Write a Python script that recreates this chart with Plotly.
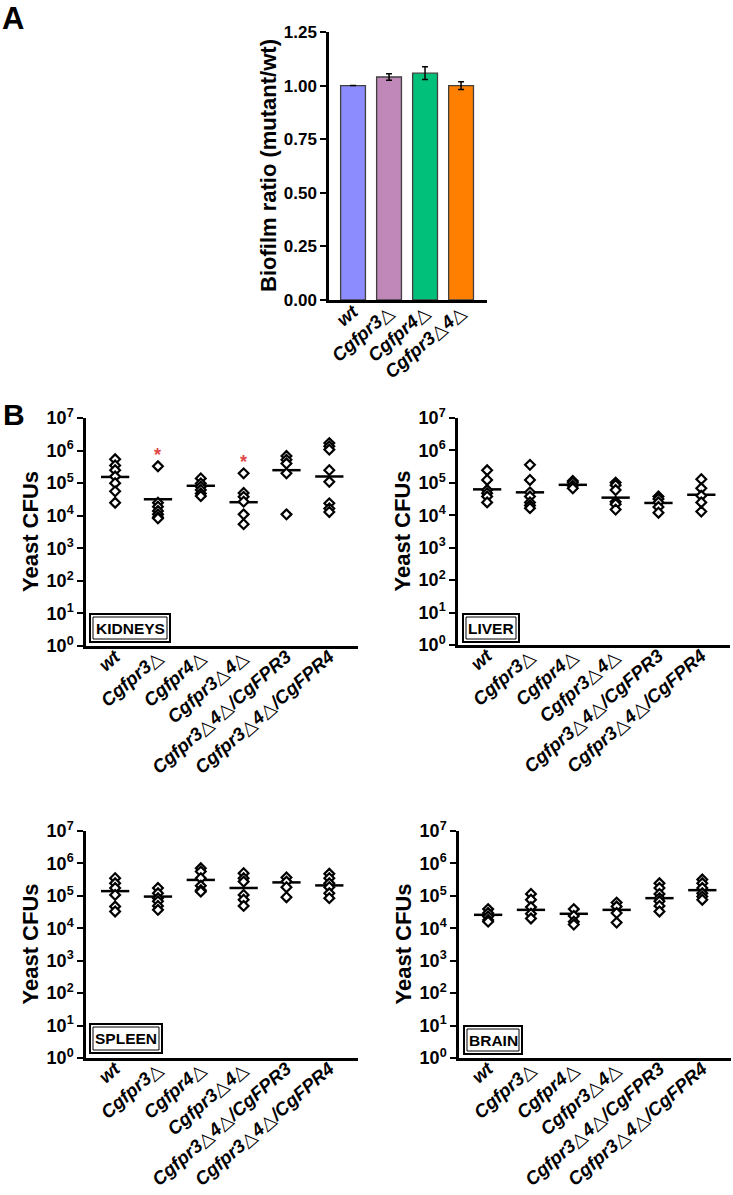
import math
import plotly.graph_objects as go

W, H = 733, 1195
FONT = "Liberation Sans, Arial, Helvetica, sans-serif"

# ---------------- Panel A data ----------------
biofilm_strains = ["wt", "Cgfpr3Δ", "Cgfpr4Δ", "Cgfpr3Δ4Δ"]
biofilm_ratio = [1.0, 1.04, 1.058, 1.0]
biofilm_err = [None, 0.015, 0.03, 0.018]
biofilm_colors = ["#8C8CFF", "#C088B8", "#00C07A", "#FF8000"]
biofilm_ticks = [0, 0.25, 0.5, 0.75, 1.0, 1.25]

# ---------------- Panel B data ----------------
strains = ["wt", "Cgfpr3Δ", "Cgfpr4Δ", "Cgfpr3Δ4Δ",
           "Cgfpr3Δ4Δ/CgFPR3", "Cgfpr3Δ4Δ/CgFPR4"]

kidneys_cfu = [
    [5.4e5, 3.5e5, 2.5e5, 1.6e5, 1.0e5, 5.6e4, 2.5e4],
    [3.3e5, 2.5e4, 1.9e4, 1.4e4, 1.1e4, 8.9e3, 8.3e3],
    [1.4e5, 9.8e4, 7.8e4, 6.2e4, 4.8e4, 4.0e4],
    [2.0e5, 5.0e4, 3.8e4, 2.7e4, 1.1e4, 5.5e3],
    [6.8e5, 5.2e5, 4.0e5, 2.0e5, 1.1e4],
    [1.7e6, 1.35e6, 1.07e6, 2.5e5, 1.1e5, 2.4e4, 1.66e4, 1.3e4],
]
kidneys_median = [1.55e5, 3.2e4, 8.3e4, 2.6e4, 2.5e5, 1.6e5]
kidneys_star = [None, 1.0e6, None, 5.8e5, None, None]

liver_cfu = [
    [2.45e5, 1.23e5, 6.0e4, 4.8e4, 3.8e4, 2.5e4],
    [3.6e5, 1.23e5, 5.1e4, 3.8e4, 2.5e4, 2.0e4, 1.66e4],
    [1.15e5, 1.02e5, 8.1e4, 6.8e4],
    [1.02e5, 8.5e4, 6.0e4, 2.6e4, 2.2e4, 1.5e4],
    [3.8e4, 3.2e4, 2.5e4, 1.8e4, 1.2e4],
    [1.3e5, 6.8e4, 4.0e4, 2.5e4, 1.3e4],
]
liver_median = [6.3e4, 5.1e4, 8.7e4, 3.5e4, 2.4e4, 4.3e4]

spleen_cfu = [
    [3.5e5, 2.45e5, 1.75e5, 1.07e5, 4.7e4, 3.3e4],
    [1.75e5, 1.2e5, 8.5e4, 6.8e4, 4.9e4, 3.7e4],
    [7.1e5, 5.6e5, 3.5e5, 2.05e5, 1.5e5, 1.35e5],
    [5.0e5, 3.5e5, 2.75e5, 1.07e5, 7.6e4, 4.9e4],
    [3.7e5, 2.75e5, 1.85e5, 9.1e4],
    [4.8e5, 3.5e5, 2.45e5, 1.85e5, 1.2e5, 8.5e4],
]
spleen_median = [1.4e5, 9.5e4, 3.1e5, 1.75e5, 2.6e5, 2.1e5]

brain_cfu = [
    [3.9e4, 2.95e4, 2.3e4, 1.8e4, 1.6e4],
    [1.15e5, 7.6e4, 4.5e4, 2.8e4, 2.0e4],
    [3.9e4, 2.4e4, 1.6e4, 1.3e4],
    [6.2e4, 4.7e4, 2.95e4, 1.5e4],
    [2.45e5, 1.75e5, 1.15e5, 8.5e4, 6.8e4, 4.9e4, 3.3e4],
    [3.2e5, 2.45e5, 1.75e5, 1.2e5, 9.5e4, 7.6e4],
]
brain_median = [2.6e4, 3.7e4, 2.8e4, 3.7e4, 8.5e4, 1.5e5]

cfu_tickvals = [1, 10, 100, 1e3, 1e4, 1e5, 1e6, 1e7]
cfu_ticktext = ["10<sup>%d</sup>" % k for k in range(8)]


def px_x(p):
    return p / W


def px_y(p):
    return 1 - p / H


def strain_label(s):
    # bold italic strain names; the deletion sign drawn as a thin open triangle
    parts = s.split("Δ")
    out = []
    for j, p in enumerate(parts):
        if p:
            out.append("<b><i>%s</i></b>" % p)
        if j < len(parts) - 1:
            out.append("△")
    return "".join(out)


fig = go.Figure()
shapes = []
annotations = []
layout = {}

AX_LINE = dict(showline=True, linecolor="black", linewidth=2.5, showgrid=False,
               zeroline=False, fixedrange=True, automargin=False)

# ---------------- Panel A ----------------
fig.add_trace(go.Bar(
    x=list(range(len(biofilm_strains))), y=biofilm_ratio, width=0.69,
    marker=dict(color=biofilm_colors, line=dict(color="#404040", width=1.3)),
    error_y=dict(type="data", array=biofilm_err, color="black", thickness=1.5, width=3),
    xaxis="x", yaxis="y", showlegend=False, hoverinfo="skip"))

layout["xaxis"] = dict(AX_LINE, domain=[px_x(329), px_x(487)], range=[-0.667, 3.72],
                       tickmode="array", tickvals=list(range(len(biofilm_strains))),
                       ticktext=[strain_label(s) for s in biofilm_strains],
                       tickangle=-41, ticks="", anchor="y", ticklabelstandoff=-9,
                       tickfont=dict(family=FONT, size=18.5, color="black"))
layout["yaxis"] = dict(AX_LINE, domain=[px_y(300), px_y(32)], range=[0, 1.25],
                       tickmode="array", tickvals=biofilm_ticks,
                       ticktext=["<b>%.2f</b>" % v for v in biofilm_ticks],
                       ticks="outside", ticklen=6, tickwidth=2, tickcolor="black", anchor="x",
                       tickfont=dict(family=FONT, size=17, color="black"))
annotations.append(dict(text="<b>Biofilm ratio (mutant/wt)</b>", textangle=-90,
                        x=px_x(269), y=px_y(166), xref="paper", yref="paper",
                        xanchor="center", yanchor="middle", showarrow=False,
                        font=dict(family=FONT, size=22, color="black")))

# ---------------- Panel B ----------------
panels = [
    ("KIDNEYS", kidneys_cfu, kidneys_median, kidneys_star, (86, 358), (418, 646), (90, 170, 614, 642)),
    ("LIVER", liver_cfu, liver_median, None, (458, 730), (418, 645), (463, 519, 614, 642)),
    ("SPLEEN", spleen_cfu, spleen_median, None, (86, 358), (831, 1058), (90, 162, 1024, 1053)),
    ("BRAIN", brain_cfu, brain_median, None, (459, 731), (831, 1058), (464, 522, 1026, 1054)),
]

for k, (name, data, med, stars, xd, yd, box) in enumerate(panels):
    n = k + 2
    xa, ya = "x%d" % n, "y%d" % n
    xs, ys = [], []
    for i, vals in enumerate(data):
        xs += [i] * len(vals)
        ys += vals
    # median lines
    mx, my = [], []
    for i, m in enumerate(med):
        mx += [i - 0.33, i + 0.33, None]
        my += [m, m, None]
    fig.add_trace(go.Scatter(x=mx, y=my, mode="lines", line=dict(color="black", width=2.5),
                             xaxis=xa, yaxis=ya, showlegend=False, hoverinfo="skip"))
    fig.add_trace(go.Scatter(x=xs, y=ys, mode="markers",
                             marker=dict(symbol="diamond", size=7.5, color="white",
                                         line=dict(color="black", width=2.2)),
                             xaxis=xa, yaxis=ya, showlegend=False, hoverinfo="skip"))
    if stars:
        for i, s in enumerate(stars):
            if s is not None:
                annotations.append(dict(text="<b>*</b>", x=i, y=math.log10(s),
                                        xref=xa, yref=ya, showarrow=False, yshift=-4,
                                        font=dict(family=FONT, size=18, color="#E04848")))
    layout["xaxis%d" % n] = dict(AX_LINE, domain=[px_x(xd[0]), px_x(xd[1])], range=[-0.68, 5.67],
                                 tickmode="array", tickvals=list(range(len(strains))),
                                 ticktext=[strain_label(s) for s in strains],
                                 tickangle=-41, ticks="", anchor=ya, ticklabelstandoff=-10,
                                 tickfont=dict(family=FONT, size=18.5, color="black"))
    layout["yaxis%d" % n] = dict(AX_LINE, domain=[px_y(yd[1]), px_y(yd[0])], type="log",
                                 range=[0, 7], tickmode="array", tickvals=cfu_tickvals,
                                 ticktext=["<b>%s</b>" % t for t in cfu_ticktext],
                                 ticks="outside", ticklen=6, tickwidth=2, tickcolor="black",
                                 anchor=xa, tickfont=dict(family=FONT, size=18, color="black"))
    annotations.append(dict(text="<b>Yeast CFUs</b>", textangle=-90,
                            x=px_x(xd[0] - 56), y=px_y((yd[0] + yd[1]) / 2),
                            xref="paper", yref="paper", xanchor="center", yanchor="middle",
                            showarrow=False, font=dict(family=FONT, size=22, color="black")))
    # label box
    x0, x1, y0, y1 = box
    shapes.append(dict(type="rect", xref="paper", yref="paper", x0=px_x(x0), x1=px_x(x1),
                       y0=px_y(y1), y1=px_y(y0), line=dict(color="black", width=2)))
    shapes.append(dict(type="rect", xref="paper", yref="paper", x0=px_x(x0 + 3), x1=px_x(x1 - 3),
                       y0=px_y(y1 - 3), y1=px_y(y0 + 3), line=dict(color="black", width=1)))
    annotations.append(dict(text="<b>%s</b>" % name, x=px_x((x0 + x1) / 2), y=px_y((y0 + y1) / 2),
                            xref="paper", yref="paper", xanchor="center", yanchor="middle",
                            showarrow=False, font=dict(family=FONT, size=15.5, color="black")))

# panel letters
annotations.append(dict(text="<b>A</b>", x=px_x(1), y=1, xref="paper", yref="paper",
                        xanchor="left", yanchor="top", showarrow=False, borderpad=0,
                        font=dict(family=FONT, size=31, color="black")))
annotations.append(dict(text="<b>B</b>", x=px_x(1), y=px_y(396), xref="paper", yref="paper",
                        xanchor="left", yanchor="top", showarrow=False,
                        font=dict(family=FONT, size=30, color="black")))

fig.update_layout(width=W, height=H, margin=dict(l=0, r=0, t=0, b=0),
                  paper_bgcolor="white", plot_bgcolor="white",
                  font=dict(family=FONT, color="black"),
                  shapes=shapes, annotations=annotations, **layout)

fig.write_html("out.html", config={"displayModeBar": False},
               post_script="document.body.style.margin='0px';")
